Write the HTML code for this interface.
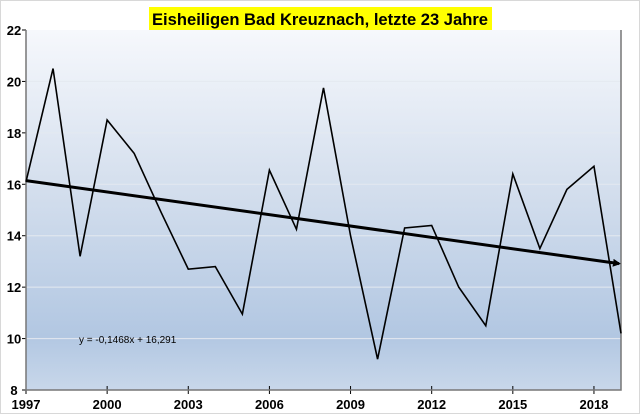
<!DOCTYPE html>
<html><head><meta charset="utf-8"><style>
body{margin:0;background:#fff;}
svg{display:block;font-family:"Liberation Sans",sans-serif;}
</style></head><body>
<svg id="c" width="640" height="414">
<defs><linearGradient id="bg" x1="0" y1="0" x2="0" y2="1">
<stop offset="0" stop-color="#f6f8fc"/><stop offset="0.45" stop-color="#d3deed"/><stop offset="0.85" stop-color="#b2c7e2"/><stop offset="1" stop-color="#c8d7ea"/></linearGradient>
<marker id="ar" markerWidth="8" markerHeight="8" refX="6" refY="4" orient="auto" markerUnits="userSpaceOnUse"><path d="M0,0 L8,4 L0,8z" fill="#000"/></marker></defs>
<rect x="0.5" y="0.5" width="639" height="413" fill="#fff" stroke="#d8d8d8"/>
<rect x="149" y="7" width="343" height="24" fill="#ffff00"/>
<text x="320" y="25" text-anchor="middle" font-size="17" font-weight="bold" textLength="336" lengthAdjust="spacingAndGlyphs">Eisheiligen Bad Kreuznach, letzte 23 Jahre</text>
<g id="plot"></g>
</svg>
<script>
const years=[1997,1998,1999,2000,2001,2002,2003,2004,2005,2006,2007,2008,2009,2010,2011,2012,2013,2014,2015,2016,2017,2018,2019];
const temps=[16.1,20.5,13.2,18.5,17.2,14.9,12.7,12.8,10.95,16.55,14.25,19.75,14.0,9.2,14.3,14.4,12.0,10.5,16.4,13.5,15.8,16.7,10.2];
const yTicks=[8,10,12,14,16,18,20,22];
const xTicks=[1997,2000,2003,2006,2009,2012,2015,2018];
const slope=-0.1468, intercept=16.291;
const NS='http://www.w3.org/2000/svg';
const L=26,R=621,T=30,B=390;
const xs=y=>L+(y-1997)*(R-L)/22;
const ys=v=>B-(v-8)*(B-T)/14;
const g=document.getElementById('plot');
function mk(t,a){const e=document.createElementNS(NS,t);for(const k in a)e.setAttribute(k,a[k]);g.appendChild(e);return e;}
let e=mk('rect',{x:L,y:T,width:R-L,height:B-T,fill:'url(#bg)'});


yTicks.forEach(v=>{
 if(v>8&&v<22){let gl=mk('line',{x1:L,x2:R,y1:ys(v),y2:ys(v),stroke:'#e4e9f0','stroke-width':1});
 
 }
 let tk=mk('line',{x1:L-4,x2:L,y1:ys(v),y2:ys(v),stroke:'#000'});
 
 
 let t=mk('text',{x:14,y:ys(v)+5,'text-anchor':'middle','font-size':13,'font-weight':'bold'});t.textContent=v;
 
 
});
xTicks.forEach(y=>{
 let tk=mk('line',{x1:xs(y),x2:xs(y),y1:B-4,y2:B+4,stroke:'#000'});
 
 
 let t=mk('text',{x:xs(y),y:409,'text-anchor':'middle','font-size':13,'font-weight':'bold'});t.textContent=y;
 
 
});
let ax=mk('path',{d:`M${L},${T}V${B}H${R}V${T}`,fill:'none',stroke:'#777','stroke-width':1.5});


let pts=years.map((y,i)=>xs(y)+','+ys(temps[i])).join(' ');
let pl=mk('polyline',{points:pts,fill:'none',stroke:'#000','stroke-width':1.6,'stroke-linejoin':'miter'});


let tr=mk('line',{x1:xs(1997),y1:ys(slope*1+intercept),x2:xs(2019)-2,y2:ys(slope*23+intercept),stroke:'#000','stroke-width':3,'marker-end':'url(#ar)'});


let eq=mk('text',{x:79,y:343,'font-size':10});eq.textContent='y = -0,1468x + 16,291';


</script>
</body></html>
